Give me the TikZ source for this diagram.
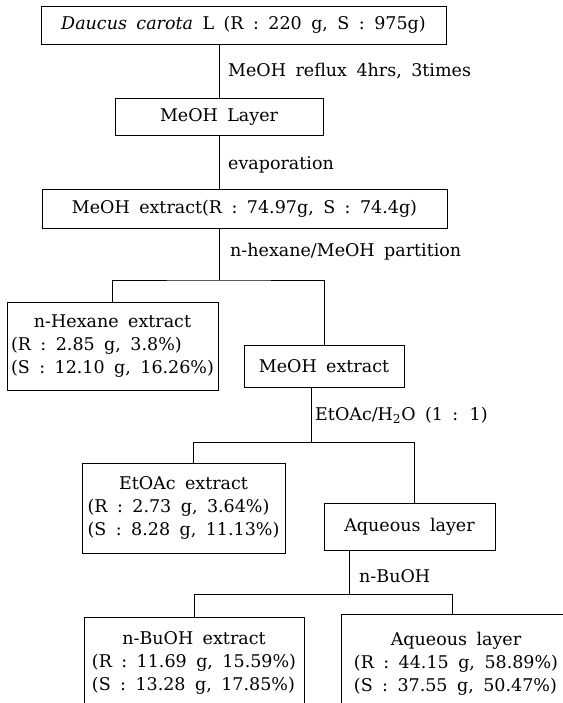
\documentclass[tikz,border=0pt]{standalone}
\usepackage{fontspec}
\setmainfont[WordSpace=1.7]{DejaVu Serif}
\usetikzlibrary{positioning,calc}

\tikzset{
  stepbox/.style={draw, line width=0.8pt, inner sep=2pt, align=center},
  cond/.style={anchor=west, inner sep=0pt},
  link/.style={line width=0.8pt},
}
% title line centred, yield lines flush left
\newcommand{\yieldtab}[3]{\begin{tabular}{@{}l@{}}\multicolumn{1}{c}{#1}\\#2\\#3\end{tabular}}

\begin{document}
\begin{tikzpicture}[x=1pt,y=-1pt,font=\fontsize{17.5}{23}\selectfont]
    \useasboundingbox (0,0) rectangle (562,703);

    % Plant material and extraction
    \node[stepbox, minimum width=405, minimum height=38] (plant) at (243.5,25) {\textit{Daucus carota} L (R : 220 g, S : 975g)};
    \node[stepbox, minimum width=208, minimum height=37] (layer) at (219,116.5) {MeOH Layer};
    \node[stepbox, minimum width=405, minimum height=39] (crude) at (244.5,208.5) {MeOH extract(R : 74.97g, S : 74.4g)};

    % Partition steps
    \node[stepbox, minimum width=211, minimum height=88] (hexane) at (112.5,346) {\yieldtab{n-Hexane extract}{(R : 2.85 g, 3.8\%)}{(S : 12.10 g, 16.26\%)}};
    \node[stepbox, minimum width=160, minimum height=42] (meoh) at (324,366) {MeOH extract};
    \node[stepbox, minimum width=203, minimum height=90] (etoac) at (183.5,508) {\yieldtab{EtOAc extract}{(R : 2.73 g, 3.64\%)}{(S : 8.28 g, 11.13\%)}};
    \node[stepbox, minimum width=171, minimum height=47] (aqua) at (409.5,526.5) {Aqueous layer};
    \node[stepbox, minimum width=220, minimum height=92] (buoh) at (194,663) {\yieldtab{n-BuOH extract}{(R : 11.69 g, 15.59\%)}{(S : 13.28 g, 17.85\%)}};
    \node[stepbox, minimum width=230, minimum height=100] (water) at (456,664) {\yieldtab{Aqueous layer}{(R : 44.15 g, 58.89\%)}{(S : 37.55 g, 50.47\%)}};

    % Conditions
    \node[cond] (reflux) at (228,71) {MeOH reflux 4hrs, 3times};
    \node[cond] (evap) at (228,165) {evaporation};
    \node[cond] (part) at (230,252) {n-hexane/MeOH partition};
    \node[cond] (solv) at (315,415) {EtOAc/H\textsubscript{2}O (1 : 1)};
    \node[cond] (buol) at (359,576) {n-BuOH};

    % Branch points
    \coordinate (j1) at (219,280);
    \coordinate (j2) at (311,442);
    \coordinate (j2l) at (193,442);
    \coordinate (j2r) at (414,442);
    \coordinate (j3) at (349,594);
    \coordinate (j3l) at (194,594);
    \coordinate (j3r) at (452,594);

    % Connectors
    \draw[link] (layer.north) -- (layer.north |- plant.south);
    \draw[link] (layer.south) -- (layer.south |- crude.north);
    \draw[link] (crude.south -| j1) -- (j1);
    \draw[link] (hexane.north) |- (j1) -| (meoh.north);
    \draw[link] (meoh.south -| j2) -- (j2);
    \draw[link] (etoac.north -| j2l) -- (j2l) -- (j2r) -- (aqua.north -| j2r);
    \draw[link] (aqua.south -| j3) -- (j3);
    \draw[link] (buoh.north -| j3l) -- (j3l) -- (j3r) -- (water.north -| j3r);
\end{tikzpicture}
\end{document}
